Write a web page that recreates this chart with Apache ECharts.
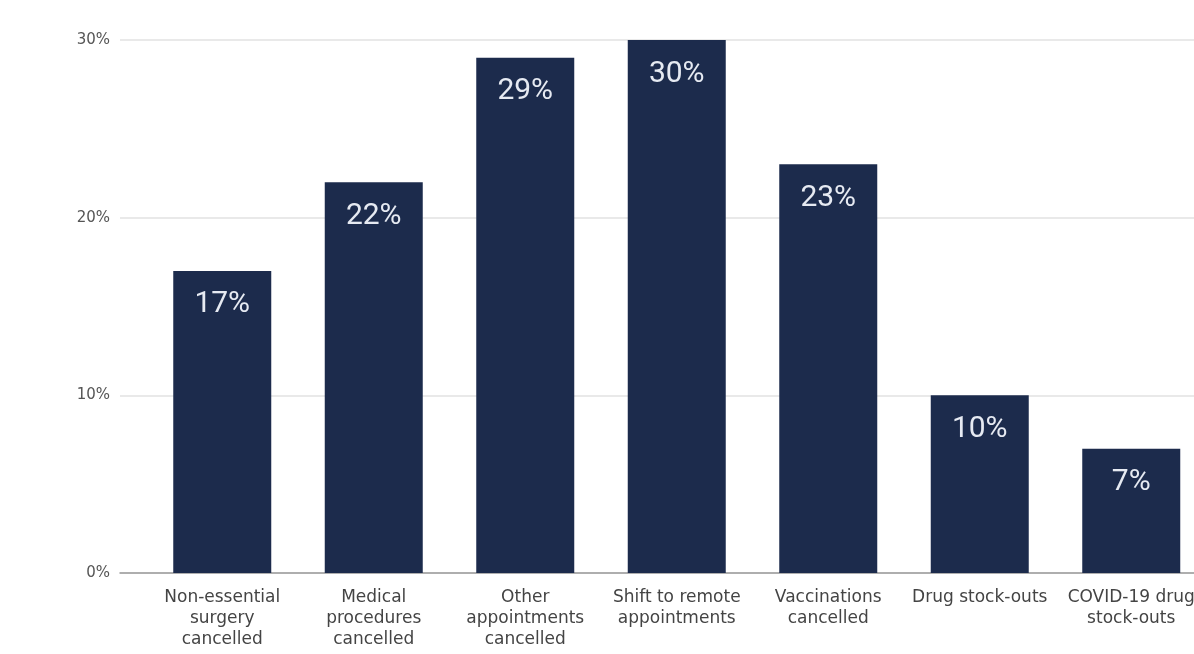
<!DOCTYPE html>
<html>
<head>
<meta charset="utf-8">
<script src="https://cdn.jsdelivr.net/npm/echarts@6/dist/echarts.min.js"></script>
<style>
html,body{margin:0;padding:0;background:#fff;}
#c{width:1194px;height:654px;}
</style>
</head>
<body>
<div id="c"></div>
<script>
const categories = [
  "Non-essential\nsurgery\ncancelled",
  "Medical\nprocedures\ncancelled",
  "Other\nappointments\ncancelled",
  "Shift to remote\nappointments",
  "Vaccinations\ncancelled",
  "Drug stock-outs",
  "COVID-19 drug\nstock-outs"
];
const values = [17, 22, 29, 30, 23, 10, 7];
const yTicks = [0, 10, 20, 30];

const chart = echarts.init(document.getElementById('c'));
chart.setOption({
  animation: false,
  backgroundColor: '#ffffff',
  grid: [
    { left: 120, right: 0, top: 40, bottom: 81, outerBoundsMode: 'none', containLabel: false },
    { left: 146.5, right: -13, top: 40, bottom: 81, outerBoundsMode: 'none', containLabel: false }
  ],
  xAxis: [
    {
      gridIndex: 0, type: 'value', min: 0, max: 1,
      axisLine: { show: true, lineStyle: { color: '#9a9a9a', width: 1.5 } },
      axisTick: { show: false }, axisLabel: { show: false }, splitLine: { show: false }
    },
    {
      gridIndex: 1, type: 'category', data: categories,
      axisLine: { show: false }, axisTick: { show: false },
      axisLabel: {
        interval: 0, margin: 14, color: '#444', fontSize: 17,
        fontFamily: 'DejaVu Sans, sans-serif', lineHeight: 21
      }
    }
  ],
  yAxis: [
    {
      gridIndex: 0, type: 'value', min: yTicks[0], max: yTicks[yTicks.length - 1], interval: 10,
      axisLine: { show: false }, axisTick: { show: false },
      axisLabel: { formatter: '{value}%', color: '#555', fontSize: 15, margin: 10,
        fontFamily: 'DejaVu Sans, sans-serif' },
      splitLine: { lineStyle: { color: '#e2e2e2', width: 1.5 } }
    },
    {
      gridIndex: 1, type: 'value', min: 0, max: 30, show: false, splitLine: { show: false }
    }
  ],
  series: [{
    type: 'bar',
    xAxisIndex: 1, yAxisIndex: 1,
    data: values,
    barWidth: 98,
    itemStyle: { color: '#1c2b4c' },
    label: {
      show: true, position: 'insideTop', distance: 19,
      formatter: '{c}%', color: '#e6eaf2', fontSize: 30,
      fontFamily: 'Roboto, sans-serif'
    }
  }]
});
</script>
</body>
</html>
